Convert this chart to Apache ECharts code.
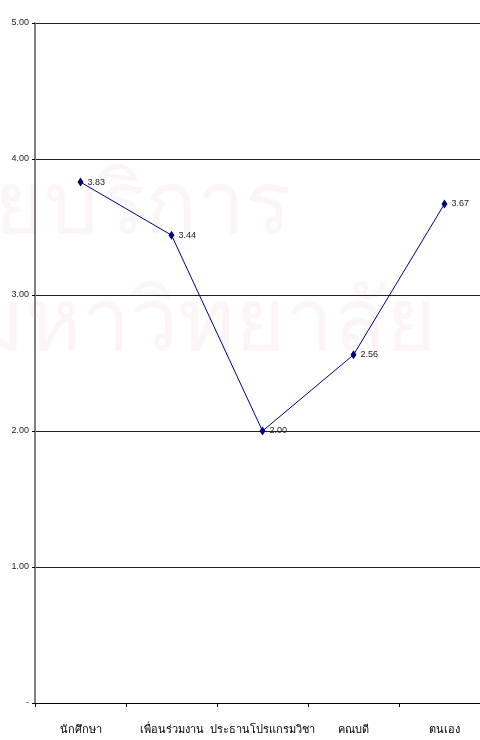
<!DOCTYPE html>
<html><head><meta charset="utf-8">
<script src="https://cdn.jsdelivr.net/npm/echarts@6/dist/echarts.min.js"></script>
<style>html,body{margin:0;padding:0;background:#fff;overflow:hidden;width:480px;height:740px}#c{width:490px;height:740px}</style>
</head><body><div id="c"></div>
<script>
var categories = ['นักศึกษา', 'เพื่อนร่วมงาน', 'ประธานโปรแกรมวิชา', 'คณบดี', 'ตนเอง'];
var values = [3.83, 3.44, 2.00, 2.56, 3.67];
var yMin = 0, yMax = 5, yStep = 1;

var chart = echarts.init(document.getElementById('c'), null, {renderer: 'canvas'});
chart.setOption({
  animation: false,
  backgroundColor: '#fff',
  graphic: [
    {type: 'text', left: -6, top: 168, z: -10, silent: true,
      style: {text: 'ยบริการ', font: '300 86px "DejaVu Sans", sans-serif', fill: '#fcf5f7'}},
    {type: 'text', left: -32, top: 285, z: -10, silent: true,
      style: {text: 'มหาวิทยาลัย', font: '300 86px "DejaVu Sans", sans-serif', fill: '#fcf5f7'}}
  ],
  grid: {left: 35, top: 23, right: 0, bottom: 37, containLabel: false},
  xAxis: {
    type: 'category', data: categories, boundaryGap: true,
    axisLine: {lineStyle: {color: '#000', width: 1}},
    axisTick: {show: true, inside: false, length: 4, lineStyle: {color: '#000'}},
    axisLabel: {color: '#000', fontSize: 11, margin: 21, interval: 0,
      fontFamily: '"Noto Sans", "DejaVu Sans", sans-serif'}
  },
  yAxis: {
    type: 'value', min: yMin, max: yMax, interval: yStep,
    axisLine: {show: true, lineStyle: {color: '#808080', width: 2}},
    axisTick: {show: true, length: 3, lineStyle: {color: '#000'}},
    splitLine: {show: true, lineStyle: {color: '#222', width: 1}},
    axisLabel: {color: '#222', fontSize: 9, margin: 6,
      fontFamily: '"Liberation Sans Narrow", "Liberation Sans", Arial, sans-serif',
      formatter: function (v) { return v === 0 ? '-' : v.toFixed(2); }}
  },
  series: [{
    type: 'line', data: values,
    lineStyle: {color: '#000080', width: 1},
    itemStyle: {color: '#000080'},
    symbol: 'diamond', symbolSize: [6, 9],
    label: {show: true, position: 'right', distance: 4, color: '#222', fontSize: 9,
      fontFamily: '"Liberation Sans Narrow", "Liberation Sans", Arial, sans-serif',
      formatter: function (p) { return p.value.toFixed(2); }}
  }]
});
</script></body></html>
